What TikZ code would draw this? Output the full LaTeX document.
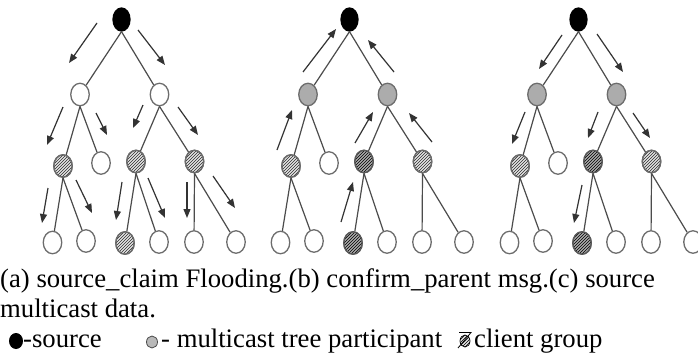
\documentclass[tikz,border=0pt]{standalone}
\usepackage{fontspec}
\setmainfont{Liberation Serif}
\usetikzlibrary{shapes.geometric,patterns,arrows.meta}

% one tree of the protocol: #1 name prefix, #2 horizontal shift,
% #3 style of the two first-level nodes, #4 style of node E, #5 style of node I
\newcommand\drawtree[5]{%
  \begin{scope}[xshift=#2]
    \node[src] (#1R) at (121.5,19.5) {};
    \node[#3]  (#1A) at (80,94.5) {};
    \node[#3]  (#1B) at (159.5,94.5) {};
    \node[hatch] (#1C) at (63,166) {};
    \node[nd]  (#1D) at (101,163) {};
    \node[#4]  (#1E) at (136,161.5) {};
    \node[hatch] (#1F) at (194.5,161.5) {};
    \node[nd]  (#1G) at (52.5,242.5) {};
    \node[nd]  (#1H) at (86,241) {};
    \node[#5]  (#1I) at (125,243) {};
    \node[nd]  (#1J) at (159,242) {};
    \node[nd]  (#1K) at (194,242) {};
    \node[nd]  (#1L) at (236,242) {};
  \end{scope}
  \foreach \p/\c in {R/A,R/B,A/C,A/D,B/E,B/F,C/G,C/H,E/I,E/J,F/K,F/L}
    \draw[edge] (#1\p.south) -- (#1\c);
}

% a message arrow running beside a tree edge
\newcommand\flowarrow[3]{%
  \coordinate (#1s) at #2;
  \coordinate (#1e) at #3;
  \draw[flow] (#1s) -- (#1e);
}

\begin{document}
\begin{tikzpicture}[x=1pt,y=-1pt,
  nd/.style={ellipse, draw=gray!85!black, line width=1.3pt,
    minimum width=18.5pt, minimum height=22.5pt, inner sep=0pt, fill=white},
  src/.style={nd, fill=black, draw=black, minimum width=17pt, minimum height=23pt},
  part/.style={nd, fill=gray!65},
  hatch/.style={nd, fill=gray!22,
    postaction={pattern=north east lines, pattern color=gray!35!black},
    postaction={draw=gray!85!black, line width=1.3pt}},
  darkhatch/.style={nd, fill=gray!65,
    postaction={pattern=north east lines, pattern color=black},
    postaction={draw=gray!70!black, line width=1.3pt}},
  edge/.style={draw=gray!60!black, line width=1.2pt},
  flow/.style={draw=black!80, line width=1.2pt, -{Triangle[length=9pt,width=7pt]}},
  txt/.style={anchor=base west, inner sep=0pt, font=\fontsize{26.7}{30}\selectfont}
]
\useasboundingbox[fill=white] (0,0) rectangle (698,356);

% (a) source_claim flooding
\drawtree{a}{0pt}{nd}{hatch}{hatch}
\flowarrow{fa1}{(97,23)}{(69,63)}
\flowarrow{fa2}{(138,30)}{(165,65)}
\flowarrow{fa3}{(63,107)}{(47,145)}
\flowarrow{fa4}{(96,113)}{(107,135)}
\flowarrow{fa5}{(143,105)}{(133,128)}
\flowarrow{fa6}{(178,107)}{(198,135)}
\flowarrow{fa7}{(48,188)}{(42,223)}
\flowarrow{fa8}{(76,180)}{(92,213)}
\flowarrow{fa9}{(122,182)}{(116,220)}
\flowarrow{fa10}{(148,178)}{(165,218)}
\flowarrow{fa11}{(187,182)}{(187,218)}
\flowarrow{fa12}{(213,176)}{(235,208)}

% (b) confirm_parent messages
\drawtree{b}{228pt}{part}{darkhatch}{darkhatch}
\flowarrow{fb1}{(303,72)}{(336,29)}
\flowarrow{fb2}{(394,72)}{(368,40)}
\flowarrow{fb3}{(277,150)}{(292,110)}
\flowarrow{fb4}{(355,143)}{(373,112)}
\flowarrow{fb5}{(432,142)}{(409,113)}
\flowarrow{fb6}{(341,222)}{(353,182)}

% (c) source multicast data
\drawtree{c}{457pt}{part}{darkhatch}{darkhatch}
\flowarrow{fc1}{(562,35)}{(539,69)}
\flowarrow{fc2}{(597,34)}{(623,72)}
\flowarrow{fc3}{(525,112)}{(512,144)}
\flowarrow{fc4}{(598,112)}{(588,138)}
\flowarrow{fc5}{(633,113)}{(650,138)}
\flowarrow{fc6}{(582,185)}{(574,223)}

% caption
\node[txt] (cap1) at (0,287) {(a) source\_claim Flooding.(b) confirm\_parent msg.(c) source};
\node[txt] (cap2) at (0,317.5) {multicast data.};

% legend
\node[ellipse, fill=black, minimum width=14pt, minimum height=16pt, inner sep=0pt] (lsrc) at (16,341) {};
\node[txt] (lsrctxt) at (23,347.5) {-source};
\node[ellipse, fill=gray!55, draw=gray!60!black, line width=0.8pt,
  minimum width=11pt, minimum height=12pt, inner sep=0pt] (lpart) at (152,342) {};
\node[txt] (lparttxt) at (161,347.5) {- multicast tree participant};
\node[ellipse, fill=gray!20, draw=black, line width=0.7pt,
  minimum width=10pt, minimum height=12pt, inner sep=0pt,
  postaction={pattern=north east lines, pattern color=black}] (lcli) at (465,341) {};
\draw[line width=0.8pt] (459,332.5) -- (471,332.5) -- (458,348);
\node[txt] (lclitxt) at (474,347.5) {client group};
\end{tikzpicture}
\end{document}
